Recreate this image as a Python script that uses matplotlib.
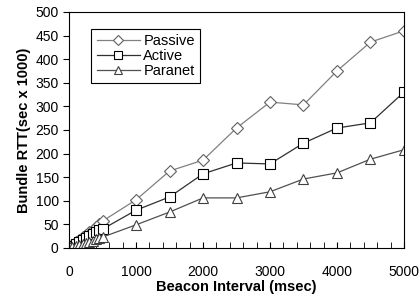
import matplotlib.pyplot as plt
from matplotlib.ticker import MultipleLocator

plt.rcParams['font.family'] = ['Liberation Sans', 'DejaVu Sans']

interval = [10, 50, 100, 150, 200, 250, 300, 350, 400, 450, 500,
            1000, 1500, 2000, 2500, 3000, 3500, 4000, 4500, 5000]
passive = [2, 7, 12, 17, 23, 28, 33, 38, 44, 50, 57,
           102, 163, 186, 254, 309, 303, 375, 436, 460]
active = [1, 5, 9, 13, 17, 21, 25, 29, 33, 37, 40,
          80, 108, 157, 180, 178, 222, 254, 265, 330]
paranet = [1, 3, 5, 7, 9, 11, 13, 15, 18, 20, 23,
           49, 76, 106, 106, 119, 146, 159, 188, 208]

fig = plt.figure(figsize=(4.19, 2.98), dpi=100)
ax = fig.add_axes([0.165, 0.168, 0.799, 0.792])

mk = dict(markerfacecolor='white', markeredgewidth=0.8)
ax.plot(interval, passive, '-', marker='D', color='#808080', lw=0.9,
        markeredgecolor='#606060', markersize=6.5, label='Passive', **mk)
ax.plot(interval, active, '-', marker='s', color='#303030', lw=0.9,
        markeredgecolor='black', markersize=7, label='Active', **mk)
ax.plot(interval, paranet, '-', marker='^', color='#505050', lw=0.9,
        markeredgecolor='#404040', markersize=7, label='Paranet', **mk)

ax.set_xlim(0, 5000)
ax.set_ylim(0, 500)
ax.xaxis.set_major_locator(MultipleLocator(1000))
ax.xaxis.set_minor_locator(MultipleLocator(200))
ax.yaxis.set_major_locator(MultipleLocator(50))
ax.tick_params(axis='x', which='both', direction='in', length=4, labelsize=10, pad=12)
ax.tick_params(axis='y', direction='out', length=4, labelsize=10)
for s in ax.spines.values():
    s.set_linewidth(0.8)

ax.set_xlabel('Beacon Interval (msec)', fontweight='bold', fontsize=10.5, labelpad=1)
ax.set_ylabel('Bundle RTT(sec x 1000)', fontweight='bold', fontsize=10.5, labelpad=3)

leg = ax.legend(loc='upper left', bbox_to_anchor=(0.045, 0.958), fontsize=10.5,
                fancybox=False, edgecolor='black', framealpha=1, markerscale=0.75,
                handlelength=3, borderpad=0.35, labelspacing=0.05, handletextpad=0.2)
leg.get_frame().set_linewidth(0.8)

fig.savefig('out.png', dpi=100)
